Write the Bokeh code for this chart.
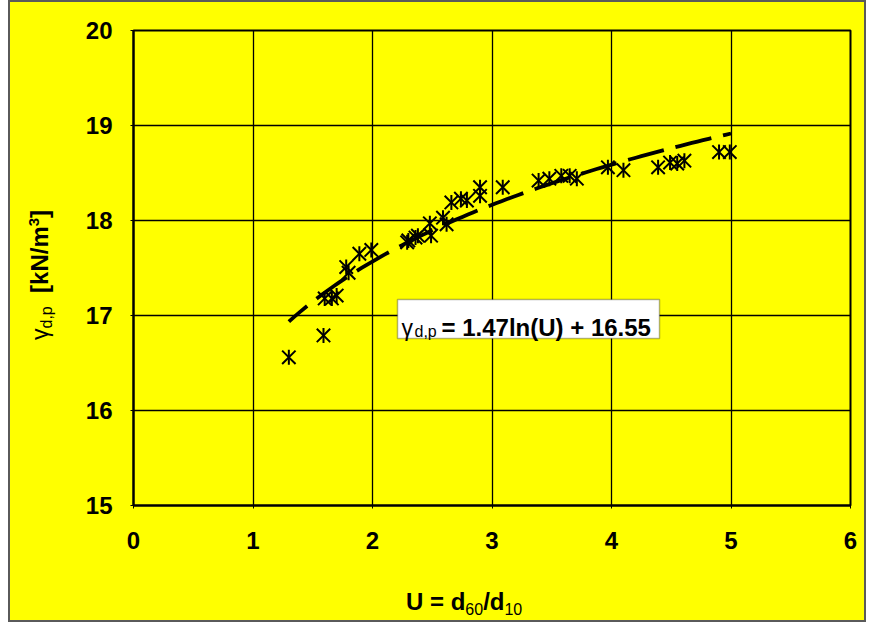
import numpy as np
from bokeh.plotting import figure
from bokeh.models import Label, BoxAnnotation, FixedTicker, Range1d, Div
from bokeh.layouts import column, row
from bokeh.embed import file_html
from bokeh.resources import INLINE

# ---------------- data ----------------
U = [1.30, 1.59, 1.60, 1.66, 1.70, 1.78, 1.80, 1.89, 1.99, 2.29, 2.30, 2.36,
     2.38, 2.48, 2.49, 2.59, 2.62, 2.66, 2.74, 2.79, 2.90, 2.90, 3.09, 3.39,
     3.48, 3.58, 3.65, 3.71, 3.97, 4.10, 4.39, 4.49, 4.55, 4.61, 4.90, 4.99]
gamma_dp = [16.56, 16.79, 17.18, 17.18, 17.21, 17.51, 17.45, 17.65, 17.69, 17.77,
            17.79, 17.82, 17.84, 17.97, 17.84, 18.03, 17.96, 18.19, 18.23, 18.21,
            18.35, 18.26, 18.35, 18.42, 18.44, 18.47, 18.47, 18.44, 18.56, 18.53,
            18.56, 18.61, 18.60, 18.63, 18.72, 18.72]
x_ticks = [0, 1, 2, 3, 4, 5, 6]
y_ticks = [15, 16, 17, 18, 19, 20]
# trend line given in the chart: gamma = 1.47 ln(U) + 16.55
fit_slope = 1.47
fit_intercept = 16.55
fit_U_start = 1.3
fit_U_end = 5.0

# ---------------- layout ----------------
YELLOW = "#FFFF00"
FONT = "Liberation Sans"
X0, X1, Y0, Y1 = 0, 6, 15, 20
FRAME_W, FRAME_H = 717, 475
PAGE_LEFT, PAGE_TOP = 133, 30   # frame position in the picture
OUT_LEFT = 8                    # white gap left of the chart border
YT_W = 62                       # width of the y-title strip
P_LEFT, P_RIGHT, P_TOP, P_BOTTOM = 61, 14, 28, 60
P_W = P_LEFT + FRAME_W + P_RIGHT
P_H = P_TOP + FRAME_H + P_BOTTOM
XT_H = 55
IN_LEFT = OUT_LEFT + 2          # page x of the strips' left edge

def dx(px):
    return X0 + (px - PAGE_LEFT) / (FRAME_W / (X1 - X0))

def dy(py):
    return Y1 - (py - PAGE_TOP) / (FRAME_H / (Y1 - Y0))

p = figure(frame_width=FRAME_W, frame_height=FRAME_H,
           x_range=Range1d(X0, X1), y_range=Range1d(Y0, Y1),
           output_backend="svg", toolbar_location=None,
           min_border_left=P_LEFT, min_border_right=P_RIGHT,
           min_border_top=P_TOP, min_border_bottom=P_BOTTOM)

p.background_fill_color = YELLOW
p.border_fill_color = YELLOW
p.outline_line_color = "black"
p.outline_line_width = 2

p.xaxis.ticker = FixedTicker(ticks=x_ticks)
p.yaxis.ticker = FixedTicker(ticks=y_ticks)
for ax in (p.xaxis, p.yaxis):
    ax.axis_line_color = "black"
    ax.axis_line_width = 2
    ax.major_tick_line_color = "black"
    ax.major_tick_out = 3
    ax.major_tick_in = 0
    ax.minor_tick_line_color = None
    ax.major_label_text_font = FONT
    ax.major_label_text_font_size = "24px"
    ax.major_label_text_font_style = "bold"
    ax.major_label_text_color = "black"
p.xaxis.major_label_standoff = 23
p.yaxis.major_label_standoff = 18

p.grid.grid_line_color = "black"
p.grid.grid_line_width = 1.3
p.grid.grid_line_alpha = 1.0

# trend line
U_fit = np.linspace(fit_U_start, fit_U_end, 80)
g_fit = fit_slope * np.log(U_fit) + fit_intercept
p.line(U_fit, g_fit, line_color="black", line_width=3.8,
       line_dash="37 12", line_dash_offset=13)

# star markers (x + vertical bar)
p.scatter(U, gamma_dp, marker="x", size=19, line_color="black", line_width=2)
p.scatter(U, gamma_dp, marker="dash", angle=np.pi / 2, size=15,
          line_color="black", line_width=2)

def lab(px, py, text, size, bold):
    p.add_layout(Label(x=dx(px), y=dy(py), text=text, text_font=FONT,
                       text_font_size=f"{size}px",
                       text_font_style="bold" if bold else "normal",
                       text_align="left", text_baseline="alphabetic",
                       text_color="black"))

# equation box
p.add_layout(BoxAnnotation(left=dx(397), right=dx(659), top=dy(299), bottom=dy(338),
                           fill_color="white", fill_alpha=1.0,
                           line_color="black", line_width=1.5))
lab(401, 327, "γ", 23, False)
lab(414, 331, "d,p", 16, False)
lab(441, 327, "= 1.47ln(U) + 16.55", 24, True)

# axis titles as HTML strips
BASE = 20.3  # baseline offset inside a 24px line box
ytitle = Div(width=YT_W, height=P_H, margin=0,
             styles={"background-color": YELLOW},
             text=(
    f'<div style="position:relative;width:{YT_W}px;height:{P_H}px;">'
    f'<div style="position:absolute;left:{48 - IN_LEFT - BASE:.1f}px;top:338px;'
    'transform-origin:0 0;transform:rotate(-90deg);white-space:nowrap;'
    f"font-family:'{FONT}';font-size:24px;font-weight:bold;line-height:24px;color:black;\">"
    '<span style="font-weight:normal;font-size:23px;">γ</span>'
    '<span style="font-weight:normal;font-size:16px;vertical-align:-4px;line-height:0;">d,p</span>'
    '&nbsp;&nbsp;[kN/m<span style="font-size:15px;vertical-align:9px;line-height:0;">3</span>]'
    '</div></div>'))

xt_top = 2 + P_H
xtitle = Div(width=YT_W + P_W, height=XT_H, margin=0,
             styles={"background-color": YELLOW},
             text=(
    f'<div style="position:relative;width:{YT_W + P_W}px;height:{XT_H}px;">'
    f'<div style="position:absolute;left:{406 - IN_LEFT}px;top:{610 - xt_top - BASE:.1f}px;'
    'white-space:nowrap;'
    f"font-family:'{FONT}';font-size:24px;font-weight:bold;line-height:24px;color:black;\">"
    'U = d<span style="font-weight:normal;font-size:16px;vertical-align:-5px;line-height:0;">60</span>'
    '/d<span style="font-weight:normal;font-size:16px;vertical-align:-5px;line-height:0;">10</span>'
    '</div></div>'))

layout = column(row(ytitle, p, margin=0, spacing=0), xtitle,
                margin=(0, 0, 0, OUT_LEFT), spacing=0,
                styles={"border": "2px solid #5a5a5a", "background-color": YELLOW})

open("out.html", "w").write(file_html(layout, INLINE))
